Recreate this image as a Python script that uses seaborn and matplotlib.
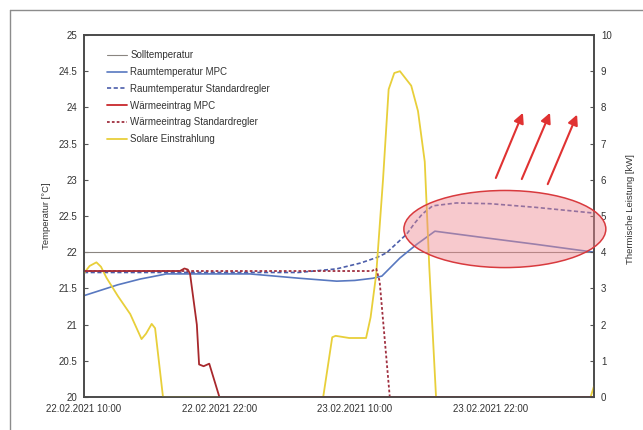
import seaborn as sns
import matplotlib.pyplot as plt
import numpy as np
from matplotlib.patches import Ellipse
from matplotlib.lines import Line2D

# --- data (hours since 22.02.2021 10:00) ---
soll_h = [0, 45.2]
soll_t = [22.0, 22.0]

mpc_h = [0, 1, 2, 3, 4, 5, 6, 7.3, 10, 14.7, 19.1, 22.4, 24, 25.6, 26.4, 28.0, 29.5, 31.1, 35, 40, 45.2]
mpc_t = [21.40, 21.45, 21.50, 21.55, 21.59, 21.63, 21.66, 21.70, 21.70, 21.70, 21.64, 21.60,
         21.61, 21.64, 21.67, 21.92, 22.11, 22.29, 22.21, 22.11, 22.00]

std_h = [0, 19, 22.4, 24.5, 26.0, 26.8, 27.7, 28.6, 29.3, 30.0, 30.9, 33, 36, 40, 45.2]
std_t = [21.72, 21.72, 21.77, 21.85, 21.93, 21.99, 22.12, 22.25, 22.40, 22.53, 22.64, 22.68,
         22.67, 22.62, 22.54]

heat_mpc_h = [0, 8.5, 8.9, 9.2, 9.4, 10.0, 10.2, 10.6, 11.1, 12.0, 45.2]
heat_mpc_p = [3.48, 3.48, 3.55, 3.52, 3.40, 2.0, 0.90, 0.85, 0.92, 0.0, 0.0]

heat_std_h = [0, 25.5, 25.9, 26.2, 27.1, 45.2]
heat_std_p = [3.48, 3.48, 3.54, 3.20, 0.0, 0.0]

sun_h = [0, 0.5, 1.1, 1.5, 2.0, 3.0, 4.1, 5.1, 5.5, 6.0, 6.3, 7.0, 21.2, 22.0, 22.3, 23.5,
         25.0, 25.4, 25.9, 26.5, 27.0, 27.5, 28.0, 28.5, 29.0, 29.6, 30.2, 30.6, 31.2, 44.9, 45.2]
sun_p = [3.42, 3.62, 3.72, 3.60, 3.29, 2.79, 2.29, 1.60, 1.75, 2.02, 1.90, 0.0, 0.0, 1.65, 1.69, 1.63,
         1.63, 2.2, 3.4, 6.0, 8.5, 8.95, 9.0, 8.8, 8.6, 7.9, 6.5, 3.6, 0.0, 0.0, 0.3]

tick_hours = [0, 12, 24, 36]
tick_labels = ["22.02.2021 10:00", "22.02.2021 22:00", "23.02.2021 10:00", "23.02.2021 22:00"]

# --- style ---
sns.set_style("white")
plt.rcParams['font.family'] = ['Liberation Sans', 'DejaVu Sans']
txt = "#333333"

fig = plt.figure(figsize=(6.43, 4.30), dpi=100)
ax = fig.add_axes([84 / 643, 1 - 397 / 430, 510 / 643, 362 / 430])
ax2 = ax.twinx()

c_soll = "#8a8580"
c_blue = "#5878c0"
c_blue_d = "#4c5eaa"
c_red = "#a8282c"
c_red_d = "#a03040"
c_sun = "#e8cf3a"

sns.lineplot(x=soll_h, y=soll_t, ax=ax, color=c_soll, linewidth=0.8, label="Solltemperatur")
sns.lineplot(x=mpc_h, y=mpc_t, ax=ax, color=c_blue, linewidth=1.2, label="Raumtemperatur MPC")
sns.lineplot(x=std_h, y=std_t, ax=ax, color=c_blue_d, linewidth=1.2, dashes=False,
             label="Raumtemperatur Standardregler").lines[-1].set_dashes([2.5, 1.5])

sns.lineplot(x=sun_h, y=sun_p, ax=ax2, color=c_sun, linewidth=1.3, label="Solare Einstrahlung")
sns.lineplot(x=heat_mpc_h, y=heat_mpc_p, ax=ax2, color=c_red, linewidth=1.3, label="Wärmeeintrag MPC")
sns.lineplot(x=heat_std_h, y=heat_std_p, ax=ax2, color=c_red_d, linewidth=1.3,
             label="Wärmeeintrag Standardregler").lines[-1].set_dashes([1.5, 1.2])

for a in (ax, ax2):
    leg = a.get_legend()
    if leg is not None:
        leg.remove()

ax.set_xlim(0, 45.2)
ax.set_ylim(20, 25)
ax2.set_ylim(0, 10)
ax.set_yticks(np.arange(20, 25.01, 0.5))
ax.set_yticklabels([f"{v:g}" for v in np.arange(20, 25.01, 0.5)])
ax2.set_yticks(range(0, 11))
ax.set_xticks(tick_hours)
ax.set_xticklabels(tick_labels)

ax.set_xlabel("")
ax.set_ylabel("Temperatur [°C]", fontsize=6.8, color=txt)
ax2.set_ylabel("Thermische Leistung [kW]", fontsize=6.8, color=txt)
ax.yaxis.set_label_coords(-0.064, 0.5)
ax2.yaxis.set_label_coords(1.062, 0.52)

for a in (ax, ax2):
    a.tick_params(direction="in", length=3, width=0.8, colors="#555555", labelsize=7,
                  labelcolor=txt, pad=5)
    for s in a.spines.values():
        s.set_color("#4a4a4a")
        s.set_linewidth(1.2)

# highlight ellipse and arrows
ax2.add_patch(Ellipse((37.3, 4.64), 17.9, 2.13, facecolor="#ee8890", alpha=0.45,
                      edgecolor="none", clip_on=False, zorder=5))
ax2.add_patch(Ellipse((37.3, 4.64), 17.9, 2.13, facecolor="none", edgecolor="#d83a3e",
                      linewidth=1.1, clip_on=False, zorder=6))
arrows = [((36.5, 6.05), (38.9, 7.85)), ((38.8, 6.02), (41.3, 7.85)), ((41.1, 5.88), (43.7, 7.80))]
for start, end in arrows:
    ax2.annotate("", xy=end, xytext=start,
                 arrowprops=dict(arrowstyle="-|>", color="#e03232", lw=1.5, mutation_scale=15,
                                 shrinkA=0, shrinkB=0))

# combined legend
handles = [
    Line2D([], [], color=c_soll, lw=0.8),
    Line2D([], [], color=c_blue, lw=1.2),
    Line2D([], [], color=c_blue_d, lw=1.2, dashes=[2.5, 1.5]),
    Line2D([], [], color="#c8282c", lw=1.3),
    Line2D([], [], color=c_red_d, lw=1.3, dashes=[1.5, 1.2]),
    Line2D([], [], color=c_sun, lw=1.3),
]
labels = ["Solltemperatur", "Raumtemperatur MPC", "Raumtemperatur Standardregler",
          "Wärmeeintrag MPC", "Wärmeeintrag Standardregler", "Solare Einstrahlung"]
ax2.legend(handles, labels, loc="upper left", bbox_to_anchor=(0.045, 0.958), frameon=False,
           fontsize=7, handlelength=2.1, handletextpad=0.3, labelspacing=0.7,
           borderpad=0, borderaxespad=0, labelcolor=txt)

# outer frame of the figure
fig.add_artist(Line2D([10 / 643, 1], [1 - 10 / 430] * 2, transform=fig.transFigure,
                      color="#8c8c8c", lw=1.0))
fig.add_artist(Line2D([10 / 643] * 2, [0, 1 - 10 / 430], transform=fig.transFigure,
                      color="#8c8c8c", lw=1.0))

plt.savefig("out.png", dpi=100)
plt.close()
